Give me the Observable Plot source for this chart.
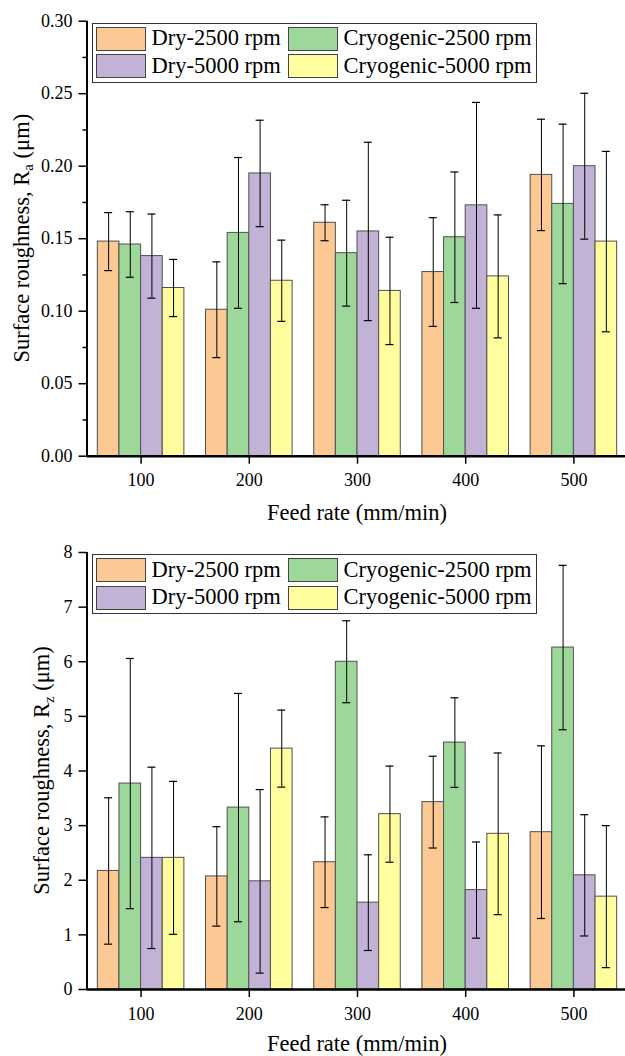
<!DOCTYPE html>
<html>
<head>
<meta charset="utf-8">
<script src="https://cdn.jsdelivr.net/npm/d3@7"></script>
<script src="https://cdn.jsdelivr.net/npm/@observablehq/plot@0.6"></script>
<style>
  body { margin: 0; background: #fff; }
  #wrap { position: relative; width: 625px; height: 1056px; overflow: hidden; font-family: "Liberation Serif", "Times New Roman", serif; }
  .chart { position: absolute; left: 0; width: 625px; overflow: hidden; }
  .chart svg, .chart svg text { font-family: "Liberation Serif", "Times New Roman", serif !important; }
  .legend { position: absolute; border: 1px solid #333; box-sizing: border-box; }
  .sw { position: absolute; width: 50px; height: 24px; border: 1px solid #444; box-sizing: border-box; }
  .lt { position: absolute; font-size: 22.5px; line-height: 24px; color: #000; white-space: nowrap; }
</style>
</head>
<body>
<div id="wrap"></div>
<script>
// ---- data ----
const feeds = [100, 200, 300, 400, 500];
const series = ["Dry-2500 rpm", "Cryogenic-2500 rpm", "Dry-5000 rpm", "Cryogenic-5000 rpm"];
const colors = ["#FCC894", "#9DD89A", "#C2B2D6", "#FFFD9E"];

// Ra (μm)
const raDry2500 = [0.148, 0.101, 0.161, 0.127, 0.194];
const raCryo2500 = [0.146, 0.154, 0.140, 0.151, 0.174];
const raDry5000 = [0.138, 0.195, 0.155, 0.173, 0.200];
const raCryo5000 = [0.116, 0.121, 0.114, 0.124, 0.148];
const raErrDry2500 = [0.020, 0.033, 0.0124, 0.0375, 0.0384];
const raErrCryo2500 = [0.0226, 0.052, 0.0365, 0.045, 0.055];
const raErrDry5000 = [0.029, 0.0367, 0.0615, 0.071, 0.0503];
const raErrCryo5000 = [0.0197, 0.028, 0.037, 0.0424, 0.0622];

// Rz (μm)
const rzDry2500 = [2.17, 2.07, 2.33, 3.43, 2.88];
const rzCryo2500 = [3.77, 3.33, 6.00, 4.52, 6.26];
const rzDry5000 = [2.41, 1.98, 1.59, 1.82, 2.09];
const rzCryo5000 = [2.41, 4.41, 3.21, 2.85, 1.70];
const rzErrDry2500 = [1.34, 0.91, 0.83, 0.84, 1.58];
const rzErrCryo2500 = [2.29, 2.09, 0.75, 0.82, 1.505];
const rzErrDry5000 = [1.66, 1.68, 0.876, 0.88, 1.11];
const rzErrCryo5000 = [1.40, 0.705, 0.88, 1.48, 1.30];

const raTicks = [0, 0.05, 0.10, 0.15, 0.20, 0.25, 0.30];
const raMinor = [0.025, 0.075, 0.125, 0.175, 0.225, 0.275];
const rzTicks = [0, 1, 2, 3, 4, 5, 6, 7, 8];

const wrap = document.getElementById("wrap");
const SERIF = "'Liberation Serif', 'Times New Roman', serif";

function makeChart(opts) {
  const data = [];
  series.forEach((s, i) => feeds.forEach((f, j) => data.push({
    feed: f, series: s, i, value: opts.means[i][j], err: opts.errs[i][j]
  })));
  const ctr = d => d.feed - 30 + d.i * 20;
  const marks = [
    Plot.rect(data, {
      x1: d => d.feed - 40 + d.i * 20, x2: d => d.feed - 20 + d.i * 20,
      y1: d => 0, y2: "value", fill: "series", stroke: "#505050", strokeWidth: 1
    }),
    Plot.ruleX(data, { x: ctr, y1: d => d.value - d.err, y2: d => d.value + d.err, stroke: "#000", strokeWidth: 1 }),
    Plot.ruleY(data, { y: d => d.value + d.err, x1: d => ctr(d) - 3.7, x2: d => ctr(d) + 3.7, stroke: "#000", strokeWidth: 1.2 }),
    Plot.ruleY(data, { y: d => d.value - d.err, x1: d => ctr(d) - 3.7, x2: d => ctr(d) + 3.7, stroke: "#000", strokeWidth: 1.2 }),
    Plot.axisY({ ticks: opts.ticks, tickSize: 8, tickPadding: 6.5, tickFormat: opts.fmt, label: null, strokeWidth: 1.5 }),
    Plot.axisX({ ticks: feeds, tickSize: 8, tickPadding: 9.5, tickFormat: d => String(d), label: null, strokeWidth: 1.5 }),
    Plot.ruleX([50], { y1: opts.domain[0], y2: opts.domain[1], stroke: "#000", strokeWidth: 2 }),
    Plot.ruleY([0], { stroke: "#000", strokeWidth: 2.5 })
  ];
  if (opts.minor) marks.push(Plot.axisY({ ticks: opts.minor, tickSize: 4, tickFormat: () => "", label: null, strokeWidth: 1.5 }));
  const svg = Plot.plot({
    width: 625, height: opts.height,
    marginLeft: 86.5, marginRight: 0,
    marginTop: opts.range[1], marginBottom: opts.height - opts.range[0],
    style: { fontFamily: SERIF, fontSize: "18px", color: "#000", background: "transparent", overflow: "hidden" },
    x: { domain: [50, 550], range: [86.5, 627.5] },
    y: { domain: opts.domain, range: opts.range },
    color: { domain: series, range: colors },
    marks
  });
  const s = d3.select(svg);
  s.attr("font-family", SERIF).style("font-family", SERIF);
  s.selectAll("text").attr("fill", "#000").attr("font-family", SERIF).style("font-size", "18px");
  // y title
  const yt = s.append("text")
    .attr("transform", `translate(${opts.yTitleX},${(opts.range[0] + opts.range[1]) / 2}) rotate(-90)`)
    .attr("text-anchor", "middle")
    .attr("fill", "#000")
    .attr("font-family", SERIF)
    .style("font-size", "22.5px")
    .style("white-space", "pre");
  yt.append("tspan").text("Surface roughness, R");
  yt.append("tspan").attr("dy", 4.5).style("font-size", "15px").text(opts.sub);
  yt.append("tspan").attr("dy", -4.5).text("\u00A0(μm)");
  // x title
  s.append("text")
    .attr("x", 357).attr("y", opts.xTitleY)
    .attr("text-anchor", "middle")
    .attr("fill", "#000")
    .attr("font-family", SERIF)
    .style("font-size", "22.5px")
    .text("Feed rate (mm/min)");
  const div = document.createElement("div");
  div.className = "chart";
  div.style.top = opts.top + "px";
  div.style.height = opts.height + "px";
  div.appendChild(svg);
  wrap.appendChild(div);
}

function makeLegend(top) {
  const box = document.createElement("div");
  box.className = "legend";
  box.style.left = "92px";
  box.style.top = top + "px";
  box.style.width = "445px";
  box.style.height = "60px";
  wrap.appendChild(box);
  const cols = [95.5, 287.5];
  const textCols = [151.5, 343.5];
  const rows = [top + 4, top + 31.5];
  series.forEach((s, i) => {
    const c = i % 2, r = Math.floor(i / 2);
    const sw = document.createElement("div");
    sw.className = "sw";
    sw.style.left = cols[c] + "px";
    sw.style.top = rows[r] + "px";
    sw.style.background = colors[i];
    wrap.appendChild(sw);
    const t = document.createElement("div");
    t.className = "lt";
    t.style.left = textCols[c] + "px";
    t.style.top = (rows[r] - 0.3) + "px";
    t.textContent = s;
    wrap.appendChild(t);
  });
}

makeChart({
  top: 0, height: 530,
  means: [raDry2500, raCryo2500, raDry5000, raCryo5000],
  errs: [raErrDry2500, raErrCryo2500, raErrDry5000, raErrCryo5000],
  domain: [0, 0.30], range: [455.7, 20.7],
  ticks: raTicks, minor: raMinor, fmt: d3.format(".2f"),
  sub: "a", yTitleX: 28.5, xTitleY: 520
});
makeChart({
  top: 530, height: 526,
  means: [rzDry2500, rzCryo2500, rzDry5000, rzCryo5000],
  errs: [rzErrDry2500, rzErrCryo2500, rzErrDry5000, rzErrCryo5000],
  domain: [0, 8], range: [459, 22],
  ticks: rzTicks, minor: null, fmt: d3.format("d"),
  sub: "z", yTitleX: 49, xTitleY: 521
});
makeLegend(22.7);
makeLegend(554);
</script>
</body>
</html>
